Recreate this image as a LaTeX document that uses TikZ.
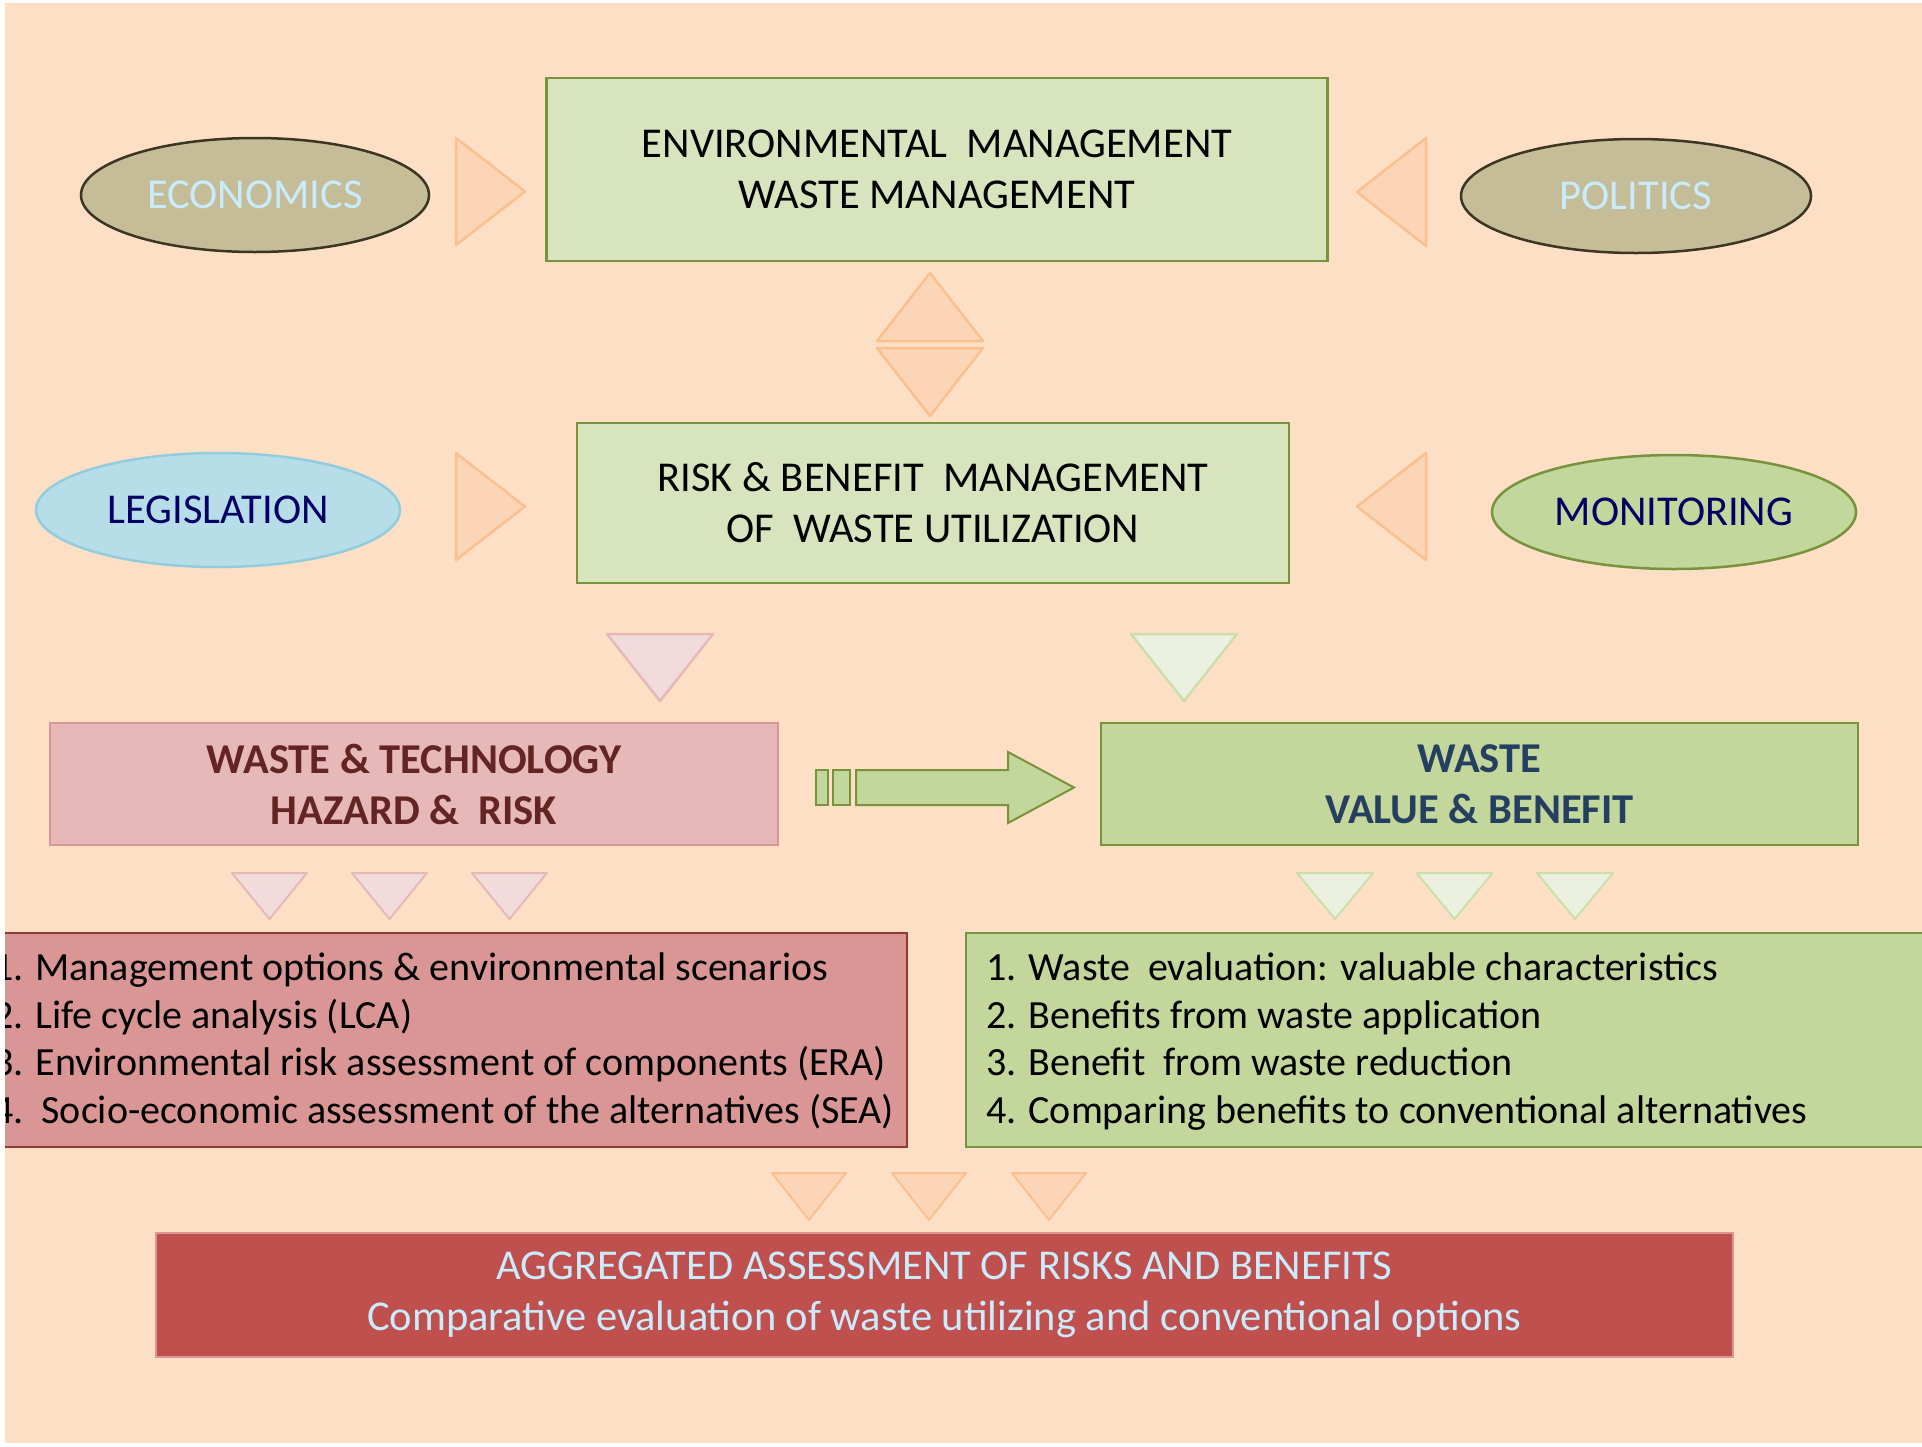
\documentclass[tikz,border=0pt]{standalone}
\usepackage{fontspec}
\setmainfont{Carlito}
\usetikzlibrary{shapes.geometric}
\definecolor{peach}{HTML}{FDDFC6}
\definecolor{lgreen}{HTML}{D7E4BD}
\definecolor{mgreen}{HTML}{C3D69B}
\definecolor{dgreen}{HTML}{77933C}
\definecolor{tan}{HTML}{C4BD97}
\definecolor{tanline}{HTML}{3B3521}
\definecolor{skytext}{HTML}{C9EBFB}
\definecolor{orfill}{HTML}{FBD5B5}
\definecolor{orline}{HTML}{FAC090}
\definecolor{aqfill}{HTML}{B7DEE8}
\definecolor{aqline}{HTML}{93CDDD}
\definecolor{navy}{HTML}{000066}
\definecolor{pkfill}{HTML}{F2DCDB}
\definecolor{pkline}{HTML}{E6B9B8}
\definecolor{gtfill}{HTML}{EBF1DE}
\definecolor{gtline}{HTML}{CCDFAA}
\definecolor{rosefill}{HTML}{E6B9B8}
\definecolor{roseline}{HTML}{D99694}
\definecolor{maroon}{HTML}{632523}
\definecolor{slate}{HTML}{243F60}
\definecolor{redlist}{HTML}{D99694}
\definecolor{redline}{HTML}{953735}
\definecolor{redbox}{HTML}{C0504D}
\begin{document}
\begin{tikzpicture}[x=1pt,y=-1pt,
  bigtxt/.style={font=\fontsize{42.5}{51}\selectfont},
  listtxt/.style={font=\fontsize{40}{48}\selectfont, anchor=base west, inner sep=0pt, text=black},
  greenbox/.style={draw=dgreen, line width=2.5pt, fill=lgreen, rectangle, inner sep=0pt, align=center, bigtxt},
  oval/.style={ellipse, inner sep=0pt, line width=2.5pt, bigtxt},
  ortri/.style={fill=orfill, draw=orline, line width=2.5pt, line join=round},
  pktri/.style={fill=pkfill, draw=pkline, line width=2.5pt, line join=round},
  gttri/.style={fill=gtfill, draw=gtline, line width=2.5pt, line join=round}]
\useasboundingbox (0,0) rectangle (1922,1446);
\fill[white] (0,0) rectangle (1922,1446);
\begin{scope}
\clip (5,3) rectangle (1922,1443);
\fill[peach] (5,3) rectangle (1922,1443);

% top row
\node[greenbox, minimum width=781pt, minimum height=183pt] (env) at (937,169.5)
  {ENVIRONMENTAL\ \ MANAGEMENT\\WASTE MANAGEMENT};
\node[oval, fill=tan, draw=tanline, text=skytext, minimum width=348pt, minimum height=114pt] (eco) at (255,195) {ECONOMICS};
\node[oval, fill=tan, draw=tanline, text=skytext, minimum width=350pt, minimum height=114pt] (pol) at (1636,196) {POLITICS};
\path[ortri] (456,138) -- (456,245) -- (525,191.5) -- cycle;
\path[ortri] (1426,138) -- (1426,246) -- (1357,192) -- cycle;

% diamond
\path[ortri] (877,341) -- (983,341) -- (930,273) -- cycle;
\path[ortri] (877,348) -- (983,348) -- (930,416) -- cycle;

% second row
\node[greenbox, minimum width=712pt, minimum height=160pt] (risk) at (933,503)
  {RISK \& BENEFIT\ \ MANAGEMENT\\OF\ \ WASTE UTILIZATION};
\node[oval, fill=aqfill, draw=aqline, text=navy, minimum width=364pt, minimum height=114pt] (leg) at (218,510) {LEGISLATION};
\node[oval, fill=mgreen, draw=dgreen, text=navy, minimum width=364pt, minimum height=114pt] (mon) at (1674,512) {MONITORING};
\path[ortri] (456,453) -- (456,560) -- (525,506.5) -- cycle;
\path[ortri] (1426,453) -- (1426,560) -- (1357,506.5) -- cycle;

% big down triangles
\path[pktri] (607,634) -- (713,634) -- (660,701) -- cycle;
\path[gttri] (1131,634) -- (1237,634) -- (1184,701) -- cycle;

% third row
\node[rectangle, draw=roseline, fill=rosefill, line width=2.5pt, inner sep=0pt,
  minimum width=728pt, minimum height=122pt, align=center, text=maroon,
  font=\fontsize{42.5}{51}\selectfont\bfseries] (wt) at (414,784)
  {WASTE \& TECHNOLOGY\\HAZARD \&\ \ RISK};
\node[rectangle, draw=dgreen, fill=mgreen, line width=2.5pt, inner sep=0pt,
  minimum width=757pt, minimum height=122pt, align=center, text=slate,
  font=\fontsize{42.5}{51}\selectfont\bfseries] (wv) at (1479.5,784)
  {WASTE\\VALUE \& BENEFIT};

% block arrow
\path[fill=mgreen, draw=dgreen, line width=2pt] (816,770) rectangle (828,805);
\path[fill=mgreen, draw=dgreen, line width=2pt] (833,770) rectangle (850,805);
\path[fill=mgreen, draw=dgreen, line width=2pt, line join=miter]
  (856,770) -- (1008,770) -- (1008,752) -- (1074,787.5) -- (1008,823) -- (1008,805) -- (856,805) -- cycle;

% small triangles
\foreach \c in {269.5,389.5,509.5}{
  \path[pktri, line width=2pt] (\c-37.5,873) -- (\c+37.5,873) -- (\c,919) -- cycle;}
\foreach \c in {1335,1454.5,1575}{
  \path[gttri, line width=2pt] (\c-38,873) -- (\c+38,873) -- (\c,919) -- cycle;}

% list boxes
\path[fill=redlist, draw=redline, line width=2.5pt] (-20,933) rectangle (907,1147);
\path[fill=mgreen, draw=dgreen, line width=2.5pt] (966,933) rectangle (1950,1147);
\node[listtxt] (p1) at (-7,980) {1. Management options \& environmental scenarios};
\node[listtxt] (p2) at (-7,1028) {2. Life cycle analysis (LCA)};
\node[listtxt] (p3) at (-7,1075) {3. Environmental risk assessment of components (ERA)};
\node[listtxt] (p4) at (-7,1123) {4.\ \ Socio-economic assessment of the alternatives (SEA)};
\node[listtxt] (g1) at (986,980) {1. Waste\ \ evaluation: valuable characteristics};
\node[listtxt] (g2) at (986,1028) {2. Benefits from waste application};
\node[listtxt] (g3) at (986,1075) {3. Benefit\ \ from waste reduction};
\node[listtxt] (g4) at (986,1123) {4. Comparing benefits to conventional alternatives};

% orange small triangles
\foreach \c in {809,929,1049}{
  \path[ortri, line width=2pt] (\c-37,1173) -- (\c+37,1173) -- (\c,1220) -- cycle;}

% bottom box
\node[rectangle, draw=roseline, fill=redbox, line width=2.5pt, inner sep=0pt,
  minimum width=1577pt, minimum height=124pt, align=center, text=skytext,
  font=\fontsize{42.5}{51}\selectfont] (agg) at (944.5,1295)
  {AGGREGATED ASSESSMENT OF RISKS AND BENEFITS\\Comparative evaluation of waste utilizing and conventional options};
\end{scope}
\end{tikzpicture}
\end{document}
